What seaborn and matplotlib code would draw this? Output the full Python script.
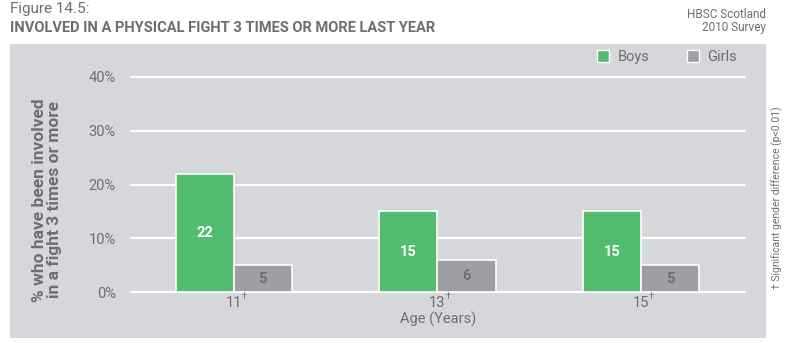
import matplotlib
matplotlib.use("Agg")
import matplotlib.pyplot as plt
from matplotlib.patches import Rectangle, Patch
import seaborn as sns
import pandas as pd

ages = ["11", "13", "15"]
boys = [22, 15, 15]
girls = [5, 6, 5]
y_ticks = [0, 10, 20, 30, 40]
y_tick_labels = ["0%", "10%", "20%", "30%", "40%"]

GREEN = "#52bd6f"
GREY_BAR = "#9d9fa3"
PANEL = "#d6d7db"
TEXT = "#6d6e71"

sns.set_theme(style="white")
plt.rcParams["font.family"] = ["Roboto", "DejaVu Sans"]

df = pd.DataFrame({
    "Age": ages * 2,
    "Percent": boys + girls,
    "Gender": ["Boys"] * len(ages) + ["Girls"] * len(ages),
})

fig = plt.figure(figsize=(7.89, 3.43), dpi=100)
fig.patch.set_facecolor("white")

# grey backing panel behind the plotting area
fig.patches.append(Rectangle((10 / 789, 1 - 338 / 343), 756 / 789, 294 / 343,
                             transform=fig.transFigure, facecolor=PANEL,
                             edgecolor="none", zorder=-5))

ax = fig.add_axes([131 / 789, 1 - 292 / 343, 614 / 789, 215 / 343])
ax.patch.set_visible(False)

sns.barplot(data=df, x="Age", y="Percent", hue="Gender",
            palette={"Boys": GREEN, "Girls": GREY_BAR}, saturation=1,
            width=0.57, edgecolor="white", linewidth=1.2,
            legend=False, ax=ax, zorder=3)

ax.set_ylim(0, 40)
ax.set_xlim(-0.505, 2.51)
for v in y_ticks:
    ax.axhline(v, color="white", lw=1.6, zorder=1, clip_on=False)
ax.set_yticks(y_ticks)
ax.set_yticklabels(y_tick_labels, color=TEXT, fontsize=10.5)
ax.tick_params(axis="y", length=0, pad=11)
ax.tick_params(axis="x", length=0, pad=3)
ax.set_xticks(range(len(ages)))
ax.set_xticklabels(ages, color=TEXT, fontsize=10.5)
for s in ax.spines.values():
    s.set_visible(False)
ax.set_xlabel("Age (Years)", color=TEXT, fontsize=10.5, labelpad=1)
ax.set_ylabel("")

# significance daggers beside the age labels
for i in range(len(ages)):
    ax.annotate("†", xy=(i, 0), xytext=(7.5, -3), textcoords="offset points",
                ha="center", va="center", fontsize=6.5, color=TEXT,
                annotation_clip=False)

# value labels inside bars
for container, color in zip(ax.containers, ["white", TEXT]):
    ax.bar_label(container, fmt="%d", label_type="center", color=color,
                 fontsize=10.5, fontweight="bold")

fig.text(47 / 789, 1 - 200 / 343,
         "% who have been involved\nin a fight 3 times or more",
         rotation=90, ha="center", va="center", fontsize=12.5,
         fontweight="bold", color=TEXT, linespacing=1.0)

fig.text(10 / 789, 1 - 9 / 343, "Figure 14.5:", ha="left", va="center",
         fontsize=11, color=TEXT)
fig.text(10 / 789, 1 - 28 / 343,
         "INVOLVED IN A PHYSICAL FIGHT 3 TIMES OR MORE LAST YEAR",
         ha="left", va="center", fontsize=10.5, fontweight="bold", color=TEXT)
fig.text(766 / 789, 1 - 21 / 343, "HBSC Scotland\n2010 Survey",
         ha="right", va="center", fontsize=8.5, color=TEXT, linespacing=1.0)

fig.text(777 / 789, 1 - 198 / 343,
         "† Significant gender difference (p<0.01)",
         rotation=90, ha="center", va="center", fontsize=7.5, color=TEXT)

handles = [Patch(facecolor=GREEN, edgecolor="white", label="Boys"),
           Patch(facecolor=GREY_BAR, edgecolor="white", label="Girls")]
leg = fig.legend(handles=handles, loc="center right",
                 bbox_to_anchor=(737 / 789, 1 - 57 / 343), ncol=2,
                 frameon=False, fontsize=10.5, handlelength=0.8,
                 handleheight=0.8, columnspacing=2.6, handletextpad=0.6,
                 borderpad=0.0, borderaxespad=0.0)
for t in leg.get_texts():
    t.set_color(TEXT)

fig.savefig("out.png", dpi=100, facecolor="white")
